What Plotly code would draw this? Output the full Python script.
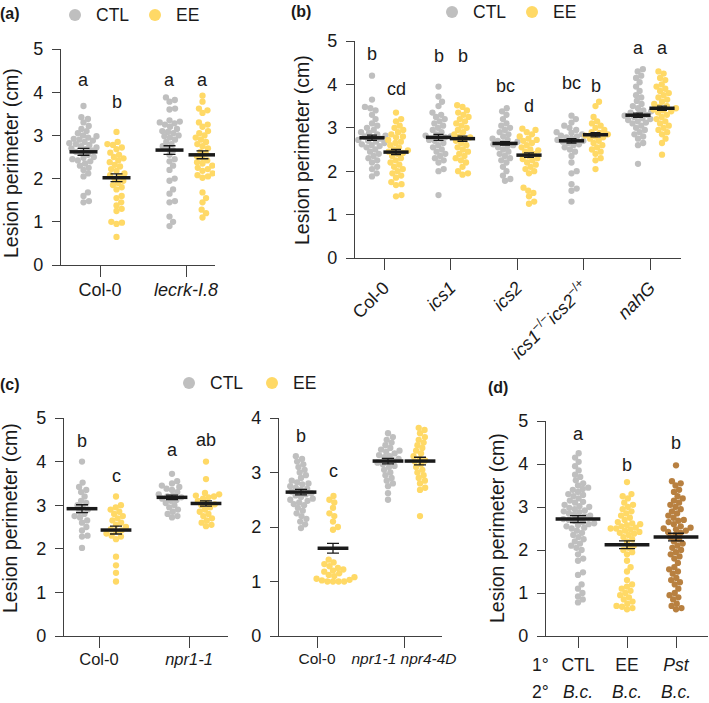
import numpy as np
import plotly.graph_objects as go

W, H = 709, 703
FONT = "Liberation Sans, Arial, sans-serif"
INK = "#1a1a1a"
AXIS = "#404040"
GREY = "#BFBFBF"
YELLOW = "#FFD966"
BROWN = "#B88040"

# ---------------- (a) ----------------
A_CATS = ["Col-0", "<i>lecrk-I.8</i>"]
A_COL_CTL = [3.68, 3.42, 3.38, 3.3, 3.22, 3.15, 3.1, 3.05, 3.0, 2.98, 2.95, 2.92, 2.9, 2.88,
             2.85, 2.82, 2.8, 2.78, 2.75, 2.72, 2.7, 2.68, 2.65, 2.62, 2.6, 2.55, 2.5, 2.48,
             2.45, 2.42, 2.4, 2.35, 2.3, 2.25, 2.2, 2.12, 2.05, 1.68, 1.6, 1.48, 1.45]
A_COL_EE = [3.08, 2.85, 2.8, 2.78, 2.72, 2.68, 2.6, 2.55, 2.5, 2.47, 2.42, 2.38, 2.32, 2.28,
            2.22, 2.18, 2.12, 2.08, 2.05, 2.0, 1.95, 1.9, 1.85, 1.8, 1.75, 1.6, 1.55, 1.45,
            1.38, 1.3, 1.25, 1.0, 0.98, 0.95, 0.65]
A_LECRK_CTL = [3.88, 3.82, 3.78, 3.62, 3.6, 3.35, 3.32, 3.3, 3.28, 3.25, 3.2, 3.15, 3.1, 3.08,
               3.05, 3.0, 2.98, 2.95, 2.9, 2.85, 2.8, 2.75, 2.7, 2.65, 2.55, 2.45, 2.4, 2.3,
               2.2, 2.0, 1.95, 1.75, 1.65, 1.48, 1.45, 1.12, 1.0, 0.9]
A_LECRK_EE = [3.92, 3.78, 3.62, 3.58, 3.52, 3.3, 3.25, 3.2, 3.1, 3.05, 3.0, 2.95, 2.9, 2.85,
              2.8, 2.75, 2.7, 2.62, 2.58, 2.52, 2.48, 2.42, 2.38, 2.35, 2.3, 2.25, 2.22, 2.18,
              2.12, 2.08, 2.05, 2.02, 1.68, 1.55, 1.45, 1.28, 1.2, 1.1]
A_MEANS = [2.62, 2.02, 2.66, 2.55]
A_SEMS = [0.08, 0.09, 0.10, 0.09]
A_LETTERS = ["a", "b", "a", "a"]
A_LETTER_Y = [4.28, 3.77, 4.28, 4.28]

# ---------------- (b) ----------------
B_CATS = ["Col-0", "<i>ics1</i>", "<i>ics2</i>",
          "<i>ics1</i><sup>−/−</sup><i>ics2</i><sup>−/+</sup>", "<i>nahG</i>"]
B_COL_CTL = [4.2, 3.65, 3.48, 3.45, 3.4, 3.3, 3.2, 3.1, 3.05, 3.0, 2.95, 2.9, 2.88, 2.85, 2.82,
             2.8, 2.78, 2.75, 2.72, 2.7, 2.68, 2.65, 2.62, 2.6, 2.58, 2.55, 2.5, 2.45, 2.4,
             2.35, 2.3, 2.25, 2.2, 2.1, 2.05, 1.95, 1.88]
B_COL_EE = [3.35, 3.2, 3.15, 3.05, 3.0, 2.95, 2.9, 2.85, 2.8, 2.78, 2.72, 2.68, 2.65, 2.6, 2.55,
            2.5, 2.48, 2.45, 2.42, 2.4, 2.35, 2.3, 2.25, 2.2, 2.15, 2.1, 2.05, 2.0, 1.95, 1.9,
            1.85, 1.75, 1.7, 1.68, 1.45, 1.42]
B_ICS1_CTL = [3.95, 3.72, 3.6, 3.5, 3.35, 3.3, 3.25, 3.2, 3.15, 3.1, 3.05, 3.0, 2.95, 2.9, 2.85,
              2.82, 2.8, 2.78, 2.75, 2.72, 2.7, 2.65, 2.6, 2.55, 2.5, 2.45, 2.4, 2.35, 2.3,
              2.25, 2.2, 2.05, 2.0, 1.45]
B_ICS1_EE = [3.52, 3.48, 3.4, 3.35, 3.3, 3.25, 3.2, 3.15, 3.1, 3.05, 3.0, 2.95, 2.9, 2.85, 2.8,
             2.78, 2.75, 2.7, 2.65, 2.6, 2.55, 2.5, 2.45, 2.4, 2.35, 2.3, 2.25, 2.2, 2.1, 2.0,
             1.95, 1.92]
B_ICS2_CTL = [3.45, 3.38, 3.3, 3.2, 3.1, 3.05, 3.0, 2.95, 2.9, 2.85, 2.8, 2.75, 2.72, 2.7, 2.68,
              2.65, 2.62, 2.6, 2.58, 2.55, 2.5, 2.45, 2.4, 2.35, 2.3, 2.25, 2.2, 2.1, 2.0, 1.9,
              1.82, 1.78]
B_ICS2_EE = [2.98, 2.95, 2.9, 2.85, 2.8, 2.75, 2.72, 2.7, 2.65, 2.6, 2.55, 2.5, 2.48, 2.45, 2.4,
             2.35, 2.3, 2.28, 2.25, 2.2, 2.15, 2.1, 2.05, 2.0, 1.95, 1.62, 1.55, 1.5, 1.42, 1.3,
             1.25]
B_DBL_CTL = [3.28, 3.2, 3.12, 3.05, 3.0, 2.95, 2.9, 2.88, 2.85, 2.82, 2.8, 2.78, 2.75, 2.72, 2.7,
             2.68, 2.65, 2.62, 2.6, 2.55, 2.5, 2.45, 2.35, 2.2, 2.0, 1.95, 1.7, 1.6, 1.55, 1.3]
B_DBL_EE = [3.6, 3.5, 3.25, 3.15, 3.1, 3.05, 3.0, 2.95, 2.9, 2.88, 2.85, 2.82, 2.8, 2.78, 2.75,
            2.7, 2.65, 2.6, 2.55, 2.5, 2.45, 2.4, 2.3, 2.25, 2.05]
B_NAHG_CTL = [4.35, 4.3, 4.2, 4.15, 4.05, 3.95, 3.85, 3.75, 3.7, 3.62, 3.55, 3.5, 3.45, 3.4,
              3.38, 3.35, 3.32, 3.3, 3.28, 3.25, 3.22, 3.2, 3.18, 3.15, 3.12, 3.1, 3.05, 3.0,
              2.95, 2.9, 2.85, 2.8, 2.75, 2.65, 2.6, 2.17]
B_NAHG_EE = [4.3, 4.25, 4.15, 4.1, 4.0, 3.95, 3.9, 3.85, 3.8, 3.75, 3.7, 3.65, 3.6, 3.55, 3.5,
             3.48, 3.45, 3.42, 3.4, 3.38, 3.35, 3.3, 3.25, 3.2, 3.15, 3.1, 3.05, 3.0, 2.95, 2.9,
             2.85, 2.75, 2.65, 2.38]
B_MEANS = [2.77, 2.44, 2.78, 2.75, 2.64, 2.37, 2.70, 2.84, 3.29, 3.45]
B_SEMS = [0.06, 0.06, 0.07, 0.06, 0.04, 0.05, 0.05, 0.05, 0.05, 0.05]
B_LETTERS = ["b", "cd", "b", "b", "bc", "d", "bc", "b", "a", "a"]
B_LETTER_Y = [4.70, 3.89, 4.65, 4.65, 3.96, 3.50, 4.03, 3.96, 4.84, 4.84]

# ---------------- (c) left ----------------
C1_CATS = ["Col-0", "<i>npr1-1</i>"]
C1_COL_CTL = [4.0, 3.52, 3.42, 3.35, 3.3, 3.2, 3.1, 3.05, 3.0, 2.95, 2.9, 2.85, 2.8, 2.75, 2.72,
              2.65, 2.6, 2.5, 2.42, 2.3, 2.28, 2.02]
C1_COL_EE = [3.2, 3.0, 2.95, 2.9, 2.85, 2.8, 2.75, 2.7, 2.65, 2.6, 2.55, 2.5, 2.45, 2.42, 2.4,
             2.35, 2.3, 2.28, 2.22, 1.82, 1.62, 1.45, 1.25]
C1_NPR_CTL = [3.72, 3.55, 3.5, 3.45, 3.42, 3.38, 3.35, 3.3, 3.25, 3.22, 3.2, 3.18, 3.15, 3.12,
              3.1, 3.05, 3.0, 2.95, 2.9, 2.85, 2.8, 2.75, 2.72]
C1_NPR_EE = [4.0, 3.6, 3.28, 3.25, 3.22, 3.2, 3.18, 3.15, 3.1, 3.05, 3.02, 3.0, 2.95, 2.9, 2.85,
             2.8, 2.75, 2.7, 2.65, 2.6, 2.55, 2.52]
C1_MEANS = [2.92, 2.43, 3.18, 3.04]
C1_SEMS = [0.09, 0.09, 0.05, 0.06]
C1_LETTERS = ["b", "c", "a", "ab"]
C1_LETTER_Y = [4.47, 3.67, 4.27, 4.50]

# ---------------- (c) right ----------------
C2_CATS = ["Col-0", "<i>npr1-1 npr4-4D</i>"]
C2_COL_CTL = [3.3, 3.25, 3.2, 3.15, 3.1, 3.05, 3.0, 2.95, 2.9, 2.85, 2.82, 2.8, 2.78, 2.75,
              2.72, 2.7, 2.68, 2.65, 2.62, 2.6, 2.58, 2.55, 2.52, 2.5, 2.48, 2.45, 2.42, 2.4,
              2.35, 2.3, 2.25, 2.2, 2.15, 2.1, 2.05, 1.98]
C2_COL_EE = [2.57, 2.5, 2.45, 2.35, 2.25, 2.2, 2.1, 2.0, 1.95, 1.4, 1.35, 1.32, 1.28, 1.25,
             1.22, 1.2, 1.18, 1.15, 1.12, 1.1, 1.08, 1.05, 1.03, 1.02, 1.0, 1.0, 1.0, 1.0]
C2_NPR_CTL = [3.72, 3.65, 3.6, 3.55, 3.5, 3.45, 3.42, 3.4, 3.38, 3.35, 3.32, 3.3, 3.28, 3.25,
              3.22, 3.2, 3.18, 3.15, 3.12, 3.1, 3.05, 3.0, 2.95, 2.9, 2.85, 2.8, 2.75, 2.62, 2.5]
C2_NPR_EE = [3.82, 3.78, 3.72, 3.65, 3.6, 3.55, 3.5, 3.45, 3.4, 3.35, 3.3, 3.25, 3.22, 3.2,
             3.15, 3.1, 3.05, 3.0, 2.95, 2.9, 2.85, 2.8, 2.72, 2.68, 2.2]
C2_MEANS = [2.64, 1.61, 3.21, 3.21]
C2_SEMS = [0.05, 0.09, 0.05, 0.07]
C2_LETTERS = ["b", "c", "a", "a"]
C2_LETTER_Y = [3.67, 3.03, 4.09, 4.09]

# ---------------- (d) ----------------
D_CATS = ["CTL", "EE", "<i>Pst</i>"]
D_SECOND = ["<i>B.c.</i>", "<i>B.c.</i>", "<i>B.c.</i>"]
D_CTL = [4.25, 4.15, 4.05, 3.95, 3.85, 3.75, 3.7, 3.62, 3.55, 3.5, 3.45, 3.42, 3.4, 3.35, 3.3,
         3.28, 3.25, 3.2, 3.15, 3.12, 3.1, 3.05, 3.02, 3.0, 2.98, 2.95, 2.92, 2.9, 2.88, 2.85,
         2.82, 2.8, 2.78, 2.75, 2.72, 2.7, 2.68, 2.65, 2.62, 2.6, 2.58, 2.55, 2.52, 2.5, 2.45,
         2.4, 2.35, 2.3, 2.25, 2.2, 2.15, 2.1, 2.05, 2.0, 1.9, 1.8, 1.75, 1.48, 1.42, 1.2, 1.1,
         1.0, 0.92, 0.85, 0.78]
D_EE = [3.58, 3.3, 3.25, 3.2, 3.1, 3.05, 3.0, 2.95, 2.9, 2.85, 2.8, 2.75, 2.7, 2.65, 2.62, 2.6,
        2.58, 2.55, 2.52, 2.5, 2.5, 2.48, 2.45, 2.42, 2.4, 2.38, 2.35, 2.3, 2.25, 2.2, 2.1, 2.05,
        2.0, 1.95, 1.9, 1.75, 1.6, 1.5, 1.3, 1.2, 1.15, 1.1, 1.05, 1.0, 0.95, 0.9, 0.85, 0.8,
        0.75, 0.7, 0.68, 0.65, 0.62]
D_PST = [3.97, 3.6, 3.55, 3.5, 3.4, 3.35, 3.25, 3.2, 3.15, 3.1, 3.05, 3.0, 2.95, 2.9, 2.85, 2.8,
         2.75, 2.7, 2.68, 2.65, 2.6, 2.55, 2.52, 2.5, 2.48, 2.45, 2.42, 2.4, 2.35, 2.3, 2.25,
         2.2, 2.15, 2.1, 2.05, 2.0, 1.95, 1.9, 1.85, 1.8, 1.7, 1.6, 1.55, 1.5, 1.45, 1.35, 1.3,
         1.25, 1.2, 1.1, 1.0, 0.95, 0.9, 0.85, 0.75, 0.7, 0.65, 0.62]
D_MEANS = [2.72, 2.12, 2.30]
D_SEMS = [0.08, 0.09, 0.09]
D_LETTERS = ["a", "b", "b"]
D_LETTER_Y = [4.70, 3.98, 4.49]
D_ROWS = ["1°", "2°"]

LEGEND_NAMES = ["CTL", "EE"]
LEGEND_COLORS = [GREY, YELLOW]

# ---------------- layout (pixel boxes: x0, x1, ytop, ybottom) ----------------
PANELS = [
    dict(cats=A_CATS, values=[A_COL_CTL, A_COL_EE, A_LECRK_CTL, A_LECRK_EE],
         means=A_MEANS, sems=A_SEMS, letters=A_LETTERS, letter_y=A_LETTER_Y,
         colors=[GREY, YELLOW] * 2, pair=True, box=(61, 215, 49, 265), ymax=5,
         tick0=100, step=86, off=16.5, bar=20, cap=6, xfont=18, angle=0, stand=-3),
    dict(cats=B_CATS, values=[B_COL_CTL, B_COL_EE, B_ICS1_CTL, B_ICS1_EE, B_ICS2_CTL, B_ICS2_EE,
                              B_DBL_CTL, B_DBL_EE, B_NAHG_CTL, B_NAHG_EE],
         means=B_MEANS, sems=B_SEMS, letters=B_LETTERS, letter_y=B_LETTER_Y,
         colors=[GREY, YELLOW] * 5, pair=True, box=(355, 681, 41, 258), ymax=5,
         tick0=384, step=66.5, off=12, bar=18, cap=5, xfont=18, angle=-45, stand=0),
    dict(cats=C1_CATS, values=[C1_COL_CTL, C1_COL_EE, C1_NPR_CTL, C1_NPR_EE],
         means=C1_MEANS, sems=C1_SEMS, letters=C1_LETTERS, letter_y=C1_LETTER_Y,
         colors=[GREY, YELLOW] * 2, pair=True, box=(64, 228, 418, 636), ymax=5,
         tick0=99, step=90, off=17, bar=22, cap=6, xfont=16.5, angle=0, stand=-3),
    dict(cats=C2_CATS, values=[C2_COL_CTL, C2_COL_EE, C2_NPR_CTL, C2_NPR_EE],
         means=C2_MEANS, sems=C2_SEMS, letters=C2_LETTERS, letter_y=C2_LETTER_Y,
         colors=[GREY, YELLOW] * 2, pair=True, box=(279, 442, 418, 636), ymax=4,
         tick0=317, step=87, off=16, bar=22, cap=6, xfont=15.5, angle=0, stand=-3),
    dict(cats=D_CATS, values=[D_CTL, D_EE, D_PST],
         means=D_MEANS, sems=D_SEMS, letters=D_LETTERS, letter_y=D_LETTER_Y,
         colors=[GREY, YELLOW, BROWN], pair=False, box=(546, 708, 421, 636), ymax=5,
         tick0=578, step=49, off=0, bar=32, cap=8, xfont=17.5, angle=0, stand=2),
]
LEGEND_POS = [(75, 15), (452, 12), (189, 383)]  # first dot centre per legend
LEGEND_STEP = [80, 80, 83]
YTITLE_POS = [(11, 163), (302, 150), (10, 518), (497, 528)]
TAG_POS = [(10, 14, "(a)"), (301, 12, "(b)"), (10, 384, "(c)"), (498, 387, "(d)")]


def px(x):
    return x / W


def py(y):
    return 1 - y / H


def swarm(vals, scale, d=5.6):
    ys = np.asarray(vals, dtype=float) * scale
    xs = np.zeros(len(ys))
    placed = []
    for i in np.argsort(ys):
        y = ys[i]
        near = [(a, b) for a, b in placed if abs(b - y) < d]
        cands = [0.0]
        for a, b in near:
            dx = np.sqrt(d * d - (b - y) ** 2)
            cands += [a + dx, a - dx]
        cands.sort(key=abs)
        for c in cands:
            if all((c - a) ** 2 + (y - b) ** 2 >= d * d - 1e-6 for a, b in near):
                xs[i] = c
                break
        placed.append((xs[i], y))
    return xs


def note(x, y, text, size=18, **kw):
    base = dict(x=x, y=y, xref="paper", yref="paper", text=text, showarrow=False,
                xanchor="center", yanchor="middle", font=dict(size=size, color=INK))
    base.update(kw)
    return base


fig = go.Figure()
annotations = []
shapes = []

for k, p in enumerate(PANELS, start=1):
    xa, ya = f"x{k}", f"y{k}"
    x0, x1, yt, yb = p["box"]
    yscale = (yb - yt) / p["ymax"]
    centers = []
    for g, vals in enumerate(p["values"]):
        cat = g // 2 if p["pair"] else g
        shift = (-p["off"] if g % 2 == 0 else p["off"]) if p["pair"] else 0
        center = cat + shift / p["step"]
        centers.append(center)
        offs = swarm(vals, yscale) / p["step"]
        fig.add_trace(go.Scatter(
            x=center + offs, y=vals, mode="markers", xaxis=xa, yaxis=ya,
            marker=dict(size=6.3, color=p["colors"][g], line=dict(width=0)),
            showlegend=False, hoverinfo="y"))
        annotations.append(dict(
            x=center, y=p["letter_y"][g], xref=xa, yref=ya, text=p["letters"][g],
            showarrow=False, font=dict(size=18, color=INK), xanchor="center",
            yanchor="middle"))
    fig.add_trace(go.Scatter(
        x=centers, y=p["means"], mode="markers", xaxis=xa, yaxis=ya, showlegend=False,
        marker=dict(symbol="line-ew", size=p["bar"], color=INK,
                    line=dict(width=3.5, color=INK)),
        error_y=dict(type="data", array=p["sems"], color=INK, thickness=1.3,
                     width=p["cap"])))

    rng = [(x0 - p["tick0"]) / p["step"], (x1 - p["tick0"]) / p["step"]]
    fig.layout[f"xaxis{k}" if k > 1 else "xaxis"] = dict(
        domain=[px(x0), px(x1)], range=rng, anchor=ya, showline=True, linecolor=AXIS,
        linewidth=1.3, ticks="outside", ticklen=11, tickwidth=1.3, tickcolor=AXIS,
        tickvals=list(range(len(p["cats"]))), ticktext=p["cats"], tickangle=p["angle"],
        ticklabelstandoff=p["stand"],
        tickfont=dict(size=p["xfont"], color=INK), showgrid=False, zeroline=False)
    fig.layout[f"yaxis{k}" if k > 1 else "yaxis"] = dict(
        domain=[py(yb), py(yt)], range=[0, p["ymax"]], anchor=xa, showline=True,
        linecolor=AXIS, linewidth=1.3, ticks="outside", ticklen=8, tickwidth=1.3,
        tickcolor=AXIS, tickvals=list(range(p["ymax"] + 1)), ticklabelstandoff=5,
        tickfont=dict(size=18, color=INK), showgrid=False, zeroline=False)

# legends: dot + label
for (lx, ly), step in zip(LEGEND_POS, LEGEND_STEP):
    for i, (name, col) in enumerate(zip(LEGEND_NAMES, LEGEND_COLORS)):
        cx = lx + i * step
        shapes.append(dict(type="circle", xref="paper", yref="paper",
                           x0=px(cx - 6), x1=px(cx + 6), y0=py(ly + 6), y1=py(ly - 6),
                           fillcolor=col, line=dict(width=0)))
        annotations.append(note(px(cx + 19), py(ly), name, size=17.5, xanchor="left"))

for x, y in YTITLE_POS:
    annotations.append(note(px(x), py(y), "Lesion perimeter (cm)", size=19.5, textangle=-90))
for x, y, t in TAG_POS:
    annotations.append(note(px(x), py(y), f"<b>{t}</b>", size=16))
# panel (d) infection rows
for y, t in zip([665, 692], D_ROWS):
    annotations.append(note(px(540), py(y), t, size=17.5))
for i, t in enumerate(D_SECOND):
    annotations.append(note(i, py(692), t, size=17.5, xref="x5"))

fig.update_layout(
    width=W, height=H, margin=dict(l=0, r=0, t=0, b=0, autoexpand=False),
    paper_bgcolor="white", plot_bgcolor="white", showlegend=False,
    font=dict(family=FONT, color=INK), annotations=annotations, shapes=shapes,
)

# the page body carries a default 8px margin; drop it so the figure fills the window
fig.write_html("out.html", config={"displayModeBar": False},
               post_script="document.body.style.margin='0';")
